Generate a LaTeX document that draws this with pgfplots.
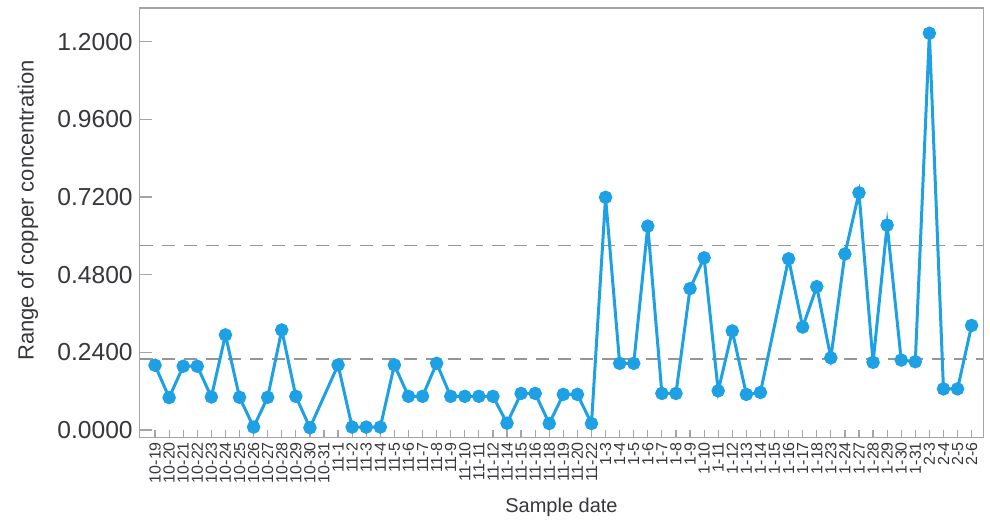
\documentclass[border=0pt]{standalone}
\usepackage{pgfplots}
\pgfplotsset{compat=1.18}
\usepackage{fontspec}
\setmainfont{Liberation Sans}

\definecolor{lineblue}{RGB}{29,161,228}
\definecolor{framegray}{RGB}{165,165,165}
\definecolor{textgray}{RGB}{55,55,60}
\definecolor{limitgray}{RGB}{150,150,150}

\begin{document}
\begin{tikzpicture}
  % fix the page to the reference's proportions (1px = 0.5pt)
  \useasboundingbox (-69.85pt,-43.15pt) rectangle (425.15pt,218.85pt);
  \begin{axis}[
      at={(0,0)}, anchor=south west,
      scale only axis,
      width=421.8pt, height=214.85pt,
      xmin=-1.09, xmax=58.83,
      ymin=-0.0238, ymax=1.304,
      axis line style={framegray, line width=0.6pt},
      xtick={0,...,58},
      xticklabels={10-19,10-20,10-21,10-22,10-23,10-24,10-25,10-26,10-27,10-28,10-29,10-30,10-31,
        11-1,11-2,11-3,11-4,11-5,11-6,11-7,11-8,11-9,11-10,11-11,11-12,11-14,11-15,11-16,11-18,11-19,11-20,11-22,
        1-3,1-4,1-5,1-6,1-7,1-8,1-9,1-10,1-11,1-12,1-13,1-14,1-15,1-16,1-17,1-18,
        1-23,1-24,1-27,1-28,1-29,1-30,1-31,2-3,2-4,2-5,2-6},
      xtick pos=bottom,
      ytick pos=left,
      tick align=inside,
      xtick style={framegray, line width=0.6pt, /pgfplots/major tick length=4pt},
      ytick style={framegray, line width=0.6pt, /pgfplots/major tick length=6pt},
      x tick label style={rotate=90, anchor=east, font=\fontsize{8}{9}\selectfont, text=textgray, inner sep=1pt, xshift=-1pt},
      ytick={0,0.24,0.48,0.72,0.96,1.2},
      y tick label style={font=\fontsize{12.3}{14}\selectfont, text=textgray,
        /pgf/number format/.cd, fixed, fixed zerofill, precision=4, assume math mode=true},
      scaled y ticks=false,
      ylabel={Range of copper concentration},
      ylabel style={at={(axis description cs:-0.1325,0.529)}, anchor=center,
        font=\fontsize{11}{13}\selectfont, text=textgray},
      xlabel={Sample date},
      xlabel style={at={(axis description cs:0.5,0)}, anchor=center, yshift=-35pt,
        font=\fontsize{10}{12}\selectfont, text=textgray},
      clip=false,
    ]

    % control limits
    \addplot[limitgray, line width=0.75pt, dash pattern=on 6.5pt off 4.5pt]
      coordinates {(-1.09,0.2194) (58.83,0.2194)};
    \addplot[limitgray, line width=0.75pt, dash pattern=on 6.5pt off 4.5pt]
      coordinates {(-1.09,0.5695) (58.83,0.5695)};

    \addplot[lineblue, line width=1.5pt, mark=*, mark size=2.6pt,
      mark options={solid, fill=lineblue, draw=none}]
      coordinates {
        (0,0.200) (1,0.100) (2,0.197) (3,0.197) (4,0.102) (5,0.294) (6,0.101)
        (7,0.009) (8,0.101) (9,0.309) (10,0.104) (11,0.007)
        (13,0.201) (14,0.009) (15,0.009) (16,0.009) (17,0.201) (18,0.104)
        (19,0.104) (20,0.206) (21,0.104) (22,0.104) (23,0.104) (24,0.104)
        (25,0.021) (26,0.113) (27,0.113) (28,0.020) (29,0.110) (30,0.110)
        (31,0.020) (32,0.719) (33,0.206) (34,0.206) (35,0.630) (36,0.113)
        (37,0.113) (38,0.437) (39,0.532) (40,0.121) (41,0.306) (42,0.110)
        (43,0.116) (45,0.529) (46,0.318) (47,0.443) (48,0.223) (49,0.544)
        (50,0.733) (51,0.209) (52,0.633) (53,0.216) (54,0.211) (55,1.226)
        (56,0.127) (57,0.127) (58,0.323)
      };
  \end{axis}
\end{tikzpicture}
\end{document}
